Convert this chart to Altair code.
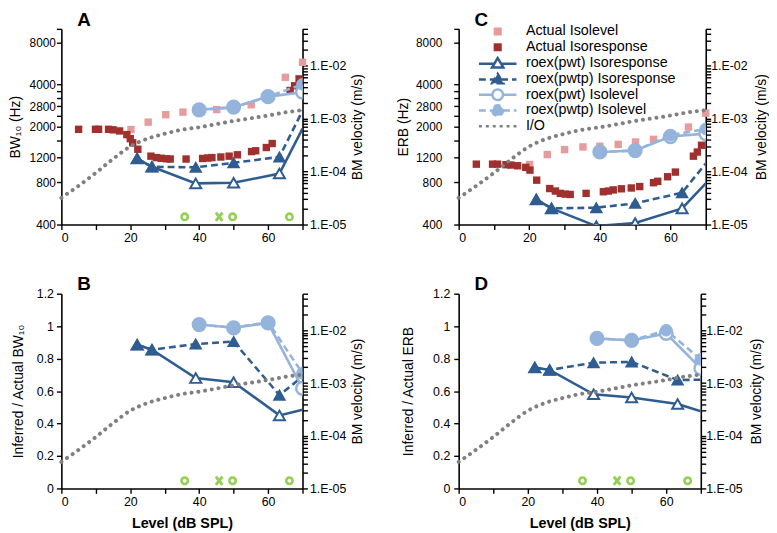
import altair as alt
import pandas as pd

FONT = "Liberation Sans"
PINK = "#e69c9c"
DRED = "#a0302e"
DBLUE = "#2f5d91"
LBLUE = "#95b4dc"
GRAY = "#808080"
GREEN = "#92d050"

# ---------------- data ----------------
# basilar-membrane I/O function (right axis, m/s)
io_level = [0, 5, 10, 15, 20, 25, 30, 35, 40, 45, 50, 55, 60, 65, 70]
io_velocity = [3.2e-5, 5.4e-5, 9.5e-5, 1.74e-4, 3.0e-4, 4.2e-4, 5.2e-4, 6.2e-4,
               6.9e-4, 7.9e-4, 9.1e-4, 1.02e-3, 1.15e-3, 1.32e-3, 1.45e-3]

# probe levels (green markers, right axis)
probe_o_level = [35.8, 49.7, 66.2]
probe_x_level = [45.8]
probe_velocity = 1.4e-5

# fitted-filter levels
resp_fit_level = [22, 26.3, 39, 50, 63.3, 70]   # last value: line end, no marker
lev_fit_level = [40, 50, 60, 70]

# Panel A: BW10 (Hz)
A_isolevel_level = [20.2, 25.2, 30.3, 35.3, 40.1, 45.1, 50.1, 55.1, 60.0, 65.0, 70.0]
A_isolevel_val = [1910, 2155, 2436, 2541, 2640, 2650, 2760, 2870, 3210, 4510, 5770]
A_isoresp_level = [5, 9.9, 10.8, 13.7, 15, 16.9, 19, 20, 20.7, 22.2, 26, 27.6, 29, 30.5, 31.6,
                   36.2, 41, 42.5, 43.7, 46.3, 48.7, 51.1, 55.2, 56.4, 59.5, 61.2, 66.4, 67.7, 69]
A_isoresp_val = [1916, 1916, 1916, 1916, 1900, 1865, 1756, 1643, 1535, 1380, 1232, 1203, 1190, 1180, 1175,
                 1175, 1186, 1195, 1203, 1215, 1232, 1260, 1328, 1346, 1420, 1516, 3630, 3920, 4390]
A_pwt_resp = [1185, 1034, 787, 795, 925, 1935]
A_pwtp_resp = [1185, 1034, 1025, 1104, 1217, 2600]
A_pwt_lev = [2640, 2760, 3280, 3530]
A_pwtp_lev = [2640, 2740, 3280, 4020]

# Panel C: ERB (Hz)
C_isolevel_level = [20.1, 25.1, 30, 35.2, 40, 45.2, 50.1, 55.2, 60.2, 65.1, 70.0]
C_isolevel_val = [1075, 1265, 1372, 1434, 1450, 1495, 1556, 1625, 1736, 1988, 2500]
C_isoresp_level = [5, 9.6, 11, 13.4, 14.8, 16.7, 19, 20.2, 22.1, 25.8, 27.4, 28.8, 30.2, 31.6,
                   36.1, 41, 42.4, 43.8, 46.1, 48.9, 51.3, 55.2, 56.4, 59.2, 61.4, 66.5, 67.6, 68.8]
C_isoresp_val = [1080, 1080, 1080, 1070, 1065, 1052, 1025, 979, 830, 723, 694, 668, 660, 656,
                 668, 686, 694, 707, 720, 730, 747, 796, 815, 878, 948, 1232, 1318, 1474]
C_pwt_resp = [605, 522, 390, 410, 522, 788]
C_pwtp_resp = [605, 522, 528, 567, 675, 1093]
C_pwt_lev = [1320, 1350, 1700, 1785]
C_pwtp_lev = [1320, 1350, 1740, 1930]

# Panel B: inferred / actual BW10
B_pwt_resp = [0.885, 0.855, 0.68, 0.655, 0.45, 0.485]
B_pwtp_resp = [0.885, 0.855, 0.89, 0.905, 0.575, 0.69]
B_pwt_lev = [1.01, 0.99, 1.02, 0.617]
B_pwtp_lev = [1.01, 0.99, 1.025, 0.71]

# Panel D: inferred / actual ERB
D_pwt_resp = [0.745, 0.73, 0.58, 0.56, 0.52, 0.475]
D_pwtp_resp = [0.745, 0.73, 0.775, 0.78, 0.668, 0.67]
D_pwt_lev = [0.925, 0.912, 0.955, 0.74]
D_pwtp_lev = [0.925, 0.912, 0.975, 0.795]

SERIES = ["Actual Isolevel", "Actual Isoresponse", "roex(pwt) Isoresponse",
          "roex(pwtp) Isoresponse", "roex(pwt) Isolevel", "roex(pwtp) Isolevel", "I/O"]

LOG_TICKS = [400, 800, 1200, 1600, 2000, 2400, 2800, 3200, 3600, 4000, 8000, 10000]
LOG_LABELS = [400, 800, 1200, 2000, 2800, 4000, 8000]
RIGHT_TICKS = [round(k * 10.0 ** e, 10) for e in (-5, -4, -3) for k in range(1, 10)] + [0.01, 0.02, 0.03, 0.04, 0.05]
RATIO_TICKS = [0, 0.2, 0.4, 0.6, 0.8, 1, 1.2]


def df(levels, values, name):
    return pd.DataFrame({"level": levels, "value": values, "series": name})


def x_enc(title):
    return alt.X("level:Q", scale=alt.Scale(domain=[0, 70], nice=False, zero=False),
                 axis=alt.Axis(values=list(range(0, 71, 10)),
                               labelExpr="datum.value % 20 == 0 ? datum.label : ''",
                               title=title, titleFontWeight="bold", titleFontSize=14.5,
                               titlePadding=9))


def left_y(kind, title, lpad, tpad):
    if kind == "log":
        lab = ",".join(str(v) for v in LOG_LABELS)
        return alt.Y("value:Q", scale=alt.Scale(type="log", domain=[400, 10000], nice=False),
                     axis=alt.Axis(values=LOG_TICKS, labelOverlap=False, title=title,
                                   titlePadding=tpad, labelPadding=lpad, labelFontSize=12,
                                   labelExpr="indexof([" + lab + "], datum.value) >= 0 ? format(datum.value, 'd') : ''"))
    return alt.Y("value:Q", scale=alt.Scale(domain=[0, 1.2], nice=False, zero=False),
                 axis=alt.Axis(values=RATIO_TICKS, format=".1~f", title=title, titlePadding=tpad,
                               labelPadding=lpad, labelFontSize=12.5, labelOverlap=False))


def right_y(lpad, tpad):
    return alt.Y("velocity:Q", scale=alt.Scale(type="log", domain=[1e-5, 0.05], nice=False),
                 axis=alt.Axis(orient="right", values=RIGHT_TICKS, labelOverlap=False,
                               title="BM velocity (m/s)", titleAngle=270, titleBaseline="top",
                               titlePadding=tpad, labelPadding=lpad, labelFontSize=12.5,
                               labelExpr="abs(log(datum.value)/LN10 - round(log(datum.value)/LN10)) < 1e-6 ? '1.E-0' + toString(-round(log(datum.value)/LN10)) : ''"))


def panel(letter, kind, ytitle, d, xtitle, width, height, lpad, tpad, rlpad, rtpad,
          probes=True, legend=False, letter_dy=0, letter_offset=4):
    X = x_enc(xtitle)
    Y = left_y(kind, ytitle, lpad, tpad)
    left = []
    if "isolevel" in d:
        left.append(alt.Chart(d["isolevel"]).mark_point(shape="square", filled=True, size=56, color=PINK, opacity=1)
                    .encode(x=X, y=Y))
        left.append(alt.Chart(d["isoresp"]).mark_point(shape="square", filled=True, size=56, color=DRED, opacity=1)
                    .encode(x=X, y=Y))
    left.append(alt.Chart(d["pwt_resp"]).mark_line(color=DBLUE, strokeWidth=2.6, clip=True).encode(x=X, y=Y))
    left.append(alt.Chart(d["pwtp_resp"]).mark_line(color=DBLUE, strokeWidth=2.6, strokeDash=[7, 4], clip=True)
                .encode(x=X, y=Y))
    left.append(alt.Chart(d["pwt_lev"]).mark_line(color=LBLUE, strokeWidth=2.6, clip=True).encode(x=X, y=Y))
    left.append(alt.Chart(d["pwtp_lev"]).mark_line(color=LBLUE, strokeWidth=2.6, strokeDash=[7, 4], clip=True)
                .encode(x=X, y=Y))
    left.append(alt.Chart(d["pwt_lev"]).mark_point(shape="circle", size=165, filled=True, fill="white", stroke=LBLUE,
                                                   strokeWidth=2.5, opacity=1, clip=True).encode(x=X, y=Y))
    left.append(alt.Chart(d["pwtp_lev"]).mark_point(shape="circle", size=140, filled=True, fill=LBLUE, stroke=LBLUE,
                                                    strokeWidth=1, opacity=1, clip=True).encode(x=X, y=Y))
    tri_pwt = d["pwt_resp"][d["pwt_resp"]["level"] < 70]
    tri_pwtp = d["pwtp_resp"][d["pwtp_resp"]["level"] < 70]
    left.append(alt.Chart(tri_pwt).mark_point(shape="triangle-up", size=125, filled=True, fill="white", stroke=DBLUE,
                                              strokeWidth=2, opacity=1, clip=True).encode(x=X, y=Y))
    left.append(alt.Chart(tri_pwtp).mark_point(shape="triangle-up", size=125, filled=True, fill=DBLUE, stroke=DBLUE,
                                               strokeWidth=1.5, opacity=1, clip=True).encode(x=X, y=Y))
    if legend:
        # symbol paths in units of 19 px (symbolSize 1444 -> half-width 19 px)
        sq = "M-0.15,-0.15H0.15V0.15H-0.15Z"
        tri = "M-1,0.03H-0.18M0.18,0.03H1M0,-0.27L0.3,0.23H-0.3Z"
        circ = ("M-1,0H-0.28M0.28,0H1M-0.28,0A0.28,0.28 0 1,0 0.28,0"
                "A0.28,0.28 0 1,0 -0.28,0Z")
        paths = [sq, sq, tri, tri, circ, circ, "M-1,0H1"]
        leg = alt.Legend(title=None, orient="none", legendX=19, legendY=-5, padding=0,
                         symbolSize=1444, clipHeight=15.3, rowPadding=-1.9,
                         symbolStrokeWidth=2.5, symbolOpacity=1, labelFont=FONT, labelFontSize=14.5,
                         labelColor="black", labelOffset=8, labelLimit=300)
        legdf = pd.concat([d[k] for k in ["isolevel", "isoresp", "pwt_resp", "pwtp_resp", "pwt_lev", "pwtp_lev"]]
                          + [df(io_level, io_velocity, "I/O")])
        left.append(alt.Chart(legdf).mark_point(opacity=0).encode(
            x=X,
            stroke=alt.Stroke("series:N", sort=SERIES, legend=leg,
                              scale=alt.Scale(domain=SERIES, range=[PINK, DRED, DBLUE, DBLUE, LBLUE, LBLUE, GRAY])),
            fill=alt.Fill("series:N", sort=SERIES, legend=leg,
                          scale=alt.Scale(domain=SERIES, range=[PINK, DRED, "white", DBLUE, "white", LBLUE, "white"])),
            shape=alt.Shape("series:N", sort=SERIES, legend=leg, scale=alt.Scale(domain=SERIES, range=paths)),
            strokeDash=alt.StrokeDash("series:N", sort=SERIES, legend=leg,
                                      scale=alt.Scale(domain=SERIES,
                                                      range=[[1, 0], [1, 0], [1, 0], [7, 4], [1, 0], [7, 4], [3, 4]])),
        ))
    RY = right_y(rlpad, rtpad)
    iodf = pd.DataFrame({"level": io_level, "velocity": io_velocity})
    right = [alt.Chart(iodf).mark_line(color=GRAY, strokeWidth=4, strokeDash=[0.1, 6.8], strokeCap="round",
                                       interpolate="monotone").encode(x=X, y=RY)]
    if probes:
        po = pd.DataFrame({"level": probe_o_level, "velocity": [probe_velocity] * len(probe_o_level)})
        px = pd.DataFrame({"level": probe_x_level, "velocity": [probe_velocity] * len(probe_x_level)})
        right.append(alt.Chart(po).mark_point(shape="circle", size=42, stroke=GREEN, strokeWidth=2.6, opacity=1)
                     .encode(x=X, y=RY))
        right.append(alt.Chart(px).mark_point(shape="M-0.8,-1L0.8,1M-0.8,1L0.8,-1", size=70, stroke=GREEN,
                                              strokeWidth=3, opacity=1).encode(x=X, y=RY))
    return (alt.layer(alt.layer(*left), alt.layer(*right))
            .resolve_scale(y="independent")
            .properties(width=width, height=height,
                        title=alt.TitleParams(text=letter, anchor="start", frame="group", dx=16, dy=letter_dy,
                                              fontSize=19, fontWeight="bold", font=FONT, color="black",
                                              offset=letter_offset)))


def fits(resp_pwt, resp_pwtp, lev_pwt, lev_pwtp):
    return {"pwt_resp": df(resp_fit_level, resp_pwt, "roex(pwt) Isoresponse"),
            "pwtp_resp": df(resp_fit_level, resp_pwtp, "roex(pwtp) Isoresponse"),
            "pwt_lev": df(lev_fit_level, lev_pwt, "roex(pwt) Isolevel"),
            "pwtp_lev": df(lev_fit_level, lev_pwtp, "roex(pwtp) Isolevel")}


dA = fits(A_pwt_resp, A_pwtp_resp, A_pwt_lev, A_pwtp_lev)
dA["isolevel"] = df(A_isolevel_level, A_isolevel_val, "Actual Isolevel")
dA["isoresp"] = df(A_isoresp_level, A_isoresp_val, "Actual Isoresponse")
dC = fits(C_pwt_resp, C_pwtp_resp, C_pwt_lev, C_pwtp_lev)
dC["isolevel"] = df(C_isolevel_level, C_isolevel_val, "Actual Isolevel")
dC["isoresp"] = df(C_isoresp_level, C_isoresp_val, "Actual Isoresponse")
dB = fits(B_pwt_resp, B_pwtp_resp, B_pwt_lev, B_pwtp_lev)
dD = fits(D_pwt_resp, D_pwtp_resp, D_pwt_lev, D_pwtp_lev)

pA = panel("A", "log", "BW₁₀ (Hz)", dA, None, 244, 198, 1, 7, 2, 5, letter_offset=-7)
pC = panel("C", "log", "ERB (Hz)", dC, None, 250, 198, 12, 5, 0, 8, probes=False, legend=True,
           letter_offset=-7)
pB = panel("B", "lin", "Inferred / Actual BW₁₀", dB, "Level (dB SPL)", 244, 197, 3, 11, 2, 5, letter_dy=10)
pD = panel("D", "lin", "Inferred / Actual ERB", dD, "Level (dB SPL)", 245, 197, 4, 17, 0, 8, letter_dy=10)

IND = dict(stroke="independent", fill="independent", shape="independent", strokeDash="independent")
row1 = alt.hconcat(pA, pC, spacing=32).resolve_scale(**IND)
row2 = alt.hconcat(pB, pD, spacing=37).resolve_scale(**IND)
chart = (alt.vconcat(row1, row2, spacing=31).resolve_scale(**IND)
         .properties(padding={"left": 0, "top": 0, "right": 0, "bottom": 0})
         .configure_view(stroke=None)
         .configure_axis(labelFont=FONT, titleFont=FONT, labelFontSize=12.5, titleFontSize=14,
                         titleFontWeight="normal", labelColor="black", titleColor="black",
                         domainColor="black", tickColor="black", domainWidth=1.6, tickWidth=1.4,
                         tickSize=5, grid=False))

chart.save("out.html", embed_options={"renderer": "svg", "actions": False})
